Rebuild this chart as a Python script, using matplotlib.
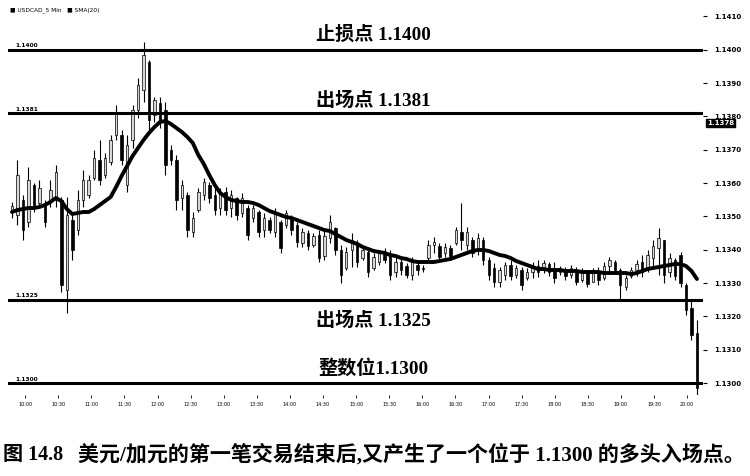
import numpy as np
import matplotlib
matplotlib.use("Agg")
import matplotlib.pyplot as plt
from matplotlib.patches import Rectangle

# ---------------- data ----------------
opens = [1.13513,1.13504,1.13549,1.13483,1.13594,1.13540,1.13534,1.13549,1.13549,1.13549,
         1.13279,1.13489,1.13459,1.13549,1.13564,1.13615,1.13669,1.13624,1.13663,1.13744,
         1.13744,1.13594,1.13729,1.13819,1.13879,1.13963,1.13804,1.13840,1.13819,1.13699,
         1.13669,1.13555,1.13564,1.13453,1.13519,1.13564,1.13594,1.13564,1.13525,1.13573,
         1.13525,1.13555,1.13510,1.13525,1.13495,1.13513,1.13459,1.13489,1.13453,1.13483,
         1.13474,1.13495,1.13474,1.13420,1.13450,1.13414,1.13444,1.13381,1.13435,1.13465,
         1.13399,1.13345,1.13399,1.13414,1.13375,1.13393,1.13345,1.13363,1.13393,1.13384,
         1.13333,1.13363,1.13351,1.13324,1.13354,1.13345,1.13375,1.13414,1.13411,1.13390,
         1.13405,1.13420,1.13453,1.13414,1.13429,1.13399,1.13429,1.13369,1.13345,1.13303,
         1.13324,1.13354,1.13324,1.13339,1.13315,1.13333,1.13351,1.13339,1.13357,1.13339,
         1.13333,1.13342,1.13324,1.13339,1.13309,1.13330,1.13303,1.13333,1.13315,1.13351,
         1.13363,1.13339,1.13288,1.13321,1.13339,1.13363,1.13345,1.13375,1.13405,1.13429,
         1.13333,1.13369,1.13384,1.13294,1.13225,1.13150]
highs = [1.13543,1.13669,1.13564,1.13648,1.13600,1.13609,1.13549,1.13609,1.13654,1.13558,
         1.13558,1.13504,1.13579,1.13639,1.13624,1.13699,1.13729,1.13690,1.13744,1.13834,
         1.13759,1.13744,1.13834,1.13915,1.14023,1.13969,1.13858,1.13858,1.13843,1.13714,
         1.13684,1.13609,1.13573,1.13513,1.13585,1.13615,1.13603,1.13594,1.13585,1.13588,
         1.13579,1.13558,1.13570,1.13534,1.13534,1.13519,1.13510,1.13498,1.13525,1.13489,
         1.13519,1.13504,1.13483,1.13465,1.13459,1.13450,1.13459,1.13459,1.13504,1.13468,
         1.13414,1.13408,1.13450,1.13429,1.13408,1.13399,1.13390,1.13399,1.13405,1.13399,
         1.13378,1.13375,1.13360,1.13378,1.13363,1.13354,1.13429,1.13438,1.13420,1.13420,
         1.13414,1.13468,1.13540,1.13468,1.13438,1.13450,1.13438,1.13378,1.13360,1.13348,
         1.13363,1.13369,1.13354,1.13348,1.13345,1.13363,1.13369,1.13369,1.13363,1.13363,
         1.13351,1.13348,1.13354,1.13348,1.13345,1.13339,1.13345,1.13348,1.13363,1.13378,
         1.13369,1.13345,1.13324,1.13348,1.13369,1.13384,1.13399,1.13429,1.13465,1.13429,
         1.13390,1.13375,1.13393,1.13300,1.13249,1.13189]
lows = [1.13495,1.13474,1.13429,1.13468,1.13513,1.13528,1.13468,1.13528,1.13528,1.13273,
        1.13210,1.13369,1.13444,1.13528,1.13555,1.13609,1.13594,1.13615,1.13654,1.13729,
        1.13654,1.13573,1.13705,1.13795,1.13843,1.13759,1.13783,1.13765,1.13624,1.13654,
        1.13519,1.13519,1.13438,1.13438,1.13513,1.13549,1.13540,1.13504,1.13504,1.13504,
        1.13498,1.13489,1.13498,1.13429,1.13483,1.13438,1.13438,1.13450,1.13438,1.13390,
        1.13465,1.13444,1.13408,1.13408,1.13399,1.13408,1.13363,1.13369,1.13420,1.13384,
        1.13300,1.13339,1.13348,1.13348,1.13369,1.13318,1.13339,1.13354,1.13360,1.13309,
        1.13318,1.13324,1.13315,1.13309,1.13324,1.13333,1.13363,1.13390,1.13369,1.13378,
        1.13369,1.13414,1.13399,1.13399,1.13378,1.13384,1.13354,1.13309,1.13288,1.13288,
        1.13309,1.13309,1.13315,1.13279,1.13309,1.13315,1.13318,1.13330,1.13321,1.13300,
        1.13324,1.13309,1.13315,1.13294,1.13303,1.13288,1.13303,1.13294,1.13309,1.13330,
        1.13333,1.13249,1.13279,1.13315,1.13321,1.13318,1.13333,1.13345,1.13324,1.13300,
        1.13318,1.13309,1.13288,1.13204,1.13129,1.12964]
closes = [1.13531,1.13624,1.13459,1.13609,1.13534,1.13585,1.13483,1.13579,1.13633,1.13294,
          1.13504,1.13399,1.13549,1.13609,1.13609,1.13675,1.13609,1.13675,1.13729,1.13813,
          1.13669,1.13714,1.13819,1.13894,1.13984,1.13789,1.13849,1.13789,1.13654,1.13669,
          1.13549,1.13594,1.13459,1.13495,1.13573,1.13603,1.13555,1.13519,1.13573,1.13519,
          1.13564,1.13504,1.13555,1.13444,1.13525,1.13453,1.13495,1.13459,1.13513,1.13405,
          1.13510,1.13459,1.13423,1.13453,1.13411,1.13441,1.13375,1.13441,1.13483,1.13399,
          1.13324,1.13393,1.13429,1.13363,1.13399,1.13333,1.13378,1.13390,1.13369,1.13324,
          1.13363,1.13339,1.13324,1.13363,1.13339,1.13342,1.13414,1.13423,1.13378,1.13408,
          1.13381,1.13459,1.13429,1.13453,1.13390,1.13435,1.13369,1.13324,1.13303,1.13339,
          1.13354,1.13321,1.13345,1.13294,1.13333,1.13351,1.13333,1.13360,1.13333,1.13315,
          1.13345,1.13321,1.13345,1.13303,1.13333,1.13297,1.13333,1.13309,1.13351,1.13369,
          1.13339,1.13294,1.13315,1.13339,1.13357,1.13333,1.13384,1.13411,1.13435,1.13324,
          1.13375,1.13321,1.13300,1.13219,1.13144,1.12985]
sma20 = [1.13513,1.13519,1.13522,1.13525,1.13525,1.13528,1.13534,1.13543,1.13555,1.13546,
         1.13522,1.13507,1.13510,1.13513,1.13513,1.13522,1.13534,1.13546,1.13558,1.13588,
         1.13621,1.13651,1.13681,1.13705,1.13729,1.13750,1.13768,1.13783,1.13786,1.13777,
         1.13765,1.13753,1.13738,1.13720,1.13684,1.13657,1.13624,1.13594,1.13570,1.13558,
         1.13549,1.13546,1.13543,1.13543,1.13540,1.13534,1.13525,1.13516,1.13510,1.13504,
         1.13498,1.13495,1.13489,1.13483,1.13477,1.13471,1.13465,1.13459,1.13456,1.13447,
         1.13438,1.13429,1.13423,1.13417,1.13408,1.13402,1.13396,1.13393,1.13390,1.13384,
         1.13381,1.13375,1.13372,1.13366,1.13363,1.13363,1.13363,1.13363,1.13366,1.13369,
         1.13372,1.13378,1.13384,1.13390,1.13396,1.13399,1.13399,1.13396,1.13390,1.13384,
         1.13381,1.13375,1.13366,1.13360,1.13354,1.13348,1.13342,1.13342,1.13339,1.13339,
         1.13339,1.13336,1.13336,1.13336,1.13333,1.13333,1.13333,1.13333,1.13330,1.13330,
         1.13330,1.13330,1.13330,1.13327,1.13330,1.13336,1.13342,1.13345,1.13348,1.13351,
         1.13354,1.13357,1.13357,1.13351,1.13336,1.13312]

levels = [1.1400, 1.1381, 1.1325, 1.1300]
level_small_labels = ["1.1400", "1.1381", "1.1325", "1.1300"]
level_texts = ["止损点 1.1400", "出场点 1.1381", "出场点 1.1325", "整数位1.1300"]
level_text_prices = [1.14045, 1.13845, 1.13185, 1.13045]
right_ticks = [1.1300, 1.1310, 1.1320, 1.1330, 1.1340, 1.1350, 1.1360,
               1.1370, 1.1380, 1.1390, 1.1400, 1.1410]
time_labels = ["10:00", "10:30", "11:00", "11:30", "12:00", "12:30", "13:00",
               "13:30", "14:00", "14:30", "15:00", "15:30", "16:00", "16:30",
               "17:00", "17:30", "18:00", "18:30", "19:00", "19:30", "20:00"]
last_price_tag = "1.1378"
last_price_tag_at = 1.13779
legend_text = "\u25a0 USDCAD_5 Min   \u25a0 SMA(20)"
caption_head = "图 14.8"
caption_body = "美元/加元的第一笔交易结束后,又产生了一个位于 1.1300 的多头入场点。"

# ---------------- figure ----------------
fig = plt.figure(figsize=(7.5, 4.76), dpi=100)
ax = fig.add_axes([8/750, 81/476, 695/750, 390/476])

n = len(opens)
idx = np.arange(n)
o = np.array(opens); h = np.array(highs); l = np.array(lows); c = np.array(closes)

ax.vlines(idx, l, h, color="black", linewidth=0.8, zorder=2)
body_w = 0.45
for i in range(n):
    lo = min(o[i], c[i]); hi = max(o[i], c[i])
    hgt = max(hi - lo, 0.00002)
    up = c[i] >= o[i]
    ax.add_patch(Rectangle((i - body_w/2, lo), body_w, hgt,
                           facecolor="#d8d8d8" if up else "black",
                           edgecolor="black", linewidth=0.5, zorder=3))

ax.plot(idx, sma20, color="black", linewidth=2.8, zorder=4, solid_capstyle="round")

for lv in levels:
    ax.axhline(lv, color="black", linewidth=2.2, zorder=5)

fam = ["Liberation Serif", "Noto Sans CJK SC"]
for txt, yp in zip(level_texts, level_text_prices):
    ax.text(66.0, yp, txt, ha="center", va="center", fontsize=13.8,
            family=fam, fontweight="bold", zorder=6)

for lbl, lv in zip(level_small_labels, levels):
    ax.text(0.6, lv + 0.00004, lbl, ha="left", va="bottom", fontsize=4.2,
            fontweight="bold", zorder=6)

ax.set_xlim(-0.73, 126.1)
ax.set_ylim(1.12964, 1.14134)

for s in ax.spines.values():
    s.set_visible(False)

ax.yaxis.tick_right()
ax.set_yticks(right_ticks)
ax.set_yticklabels([f"{v:.4f}" for v in right_ticks], fontsize=5, fontweight="bold")
ax.tick_params(axis="y", length=3, width=0.8, pad=5)

xt = np.arange(2.4, 126, 6.04)[:len(time_labels)]
ax.set_xticks(xt)
ax.set_xticklabels(time_labels, fontsize=3.5)
ax.tick_params(axis="x", length=2, width=0.6, pad=3)

ax.text(1.0 + 4/695, last_price_tag_at, last_price_tag, transform=ax.get_yaxis_transform(),
        ha="left", va="center", fontsize=5, color="white", fontweight="bold",
        bbox=dict(boxstyle="square,pad=0.15", facecolor="black", edgecolor="black"),
        zorder=7, clip_on=False)

fig.text(10/750, 1 - 10/476, legend_text, fontsize=4.2, ha="left", va="center")

fig.text(3/750, 1 - 455/476, caption_head, fontsize=14.5, ha="left", va="center",
         family=fam, fontweight="bold")
fig.text(745/750, 1 - 455/476, caption_body, fontsize=15.1, ha="right", va="center",
         family=fam, fontweight="bold")

fig.savefig("out.png", dpi=100)
